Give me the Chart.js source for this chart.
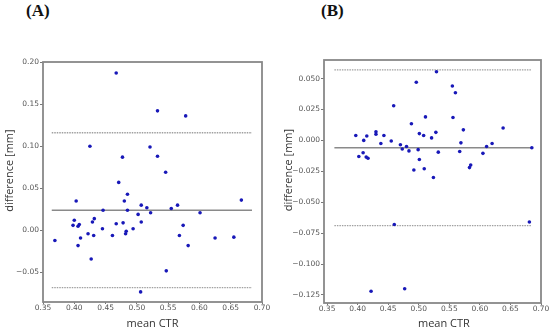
<!DOCTYPE html>
<html>
<head>
<meta charset="utf-8">
<script src="https://cdn.jsdelivr.net/npm/chart.js@4.4.1/dist/chart.umd.min.js"></script>
<style>
body { margin: 0; background: #fff; }
#wrap { position: relative; width: 550px; height: 333px; }
canvas { position: absolute; top: 0; }
.tag { position: absolute; top: 2px; font: bold 17px "Liberation Serif", serif; color: #111; line-height: 18px; }
</style>
</head>
<body>
<div id="wrap">
  <div class="tag" style="left:26px">(A)</div>
  <div class="tag" style="left:321px">(B)</div>
  <canvas id="chartA" width="272" height="333" style="left:0"></canvas>
  <canvas id="chartB" width="278" height="333" style="left:272px"></canvas>
</div>
<script>
// panel A: mean CTR vs difference
var aX = [0.369, 0.403, 0.400, 0.398, 0.406, 0.408, 0.406, 0.410, 0.422, 0.427, 0.429, 0.432, 0.431, 0.446, 0.445, 0.461, 0.467, 0.471, 0.478, 0.480, 0.483, 0.482, 0.485, 0.485, 0.494, 0.502, 0.507, 0.507, 0.506, 0.516, 0.522, 0.546, 0.547, 0.555, 0.565, 0.568, 0.574, 0.582, 0.601, 0.625, 0.655, 0.667, 0.467, 0.533, 0.578, 0.425, 0.521, 0.477, 0.533]
var aY = [-0.012, 0.035, 0.012, 0.006, 0.005, 0.007, -0.018, -0.009, -0.004, -0.034, 0.010, 0.014, -0.006, 0.024, 0.002, -0.006, 0.008, 0.057, 0.009, 0.035, -0.001, -0.004, 0.043, 0.024, 0.002, 0.019, 0.010, 0.030, -0.073, 0.027, 0.021, 0.069, -0.048, 0.026, 0.030, -0.006, 0.006, -0.018, 0.021, -0.009, -0.008, 0.036, 0.187, 0.142, 0.136, 0.100, 0.099, 0.087, 0.088]
var aMean = 0.024
var aUpper = 0.116
var aLower = -0.068
var aSpan = [0.364, 0.684]
var aXTicks = [0.35, 0.40, 0.45, 0.50, 0.55, 0.60, 0.65, 0.70]
var aYTicks = [-0.05, 0.00, 0.05, 0.10, 0.15, 0.20]

// panel B
var bX = [0.397, 0.402, 0.410, 0.409, 0.415, 0.414, 0.417, 0.430, 0.430, 0.438, 0.443, 0.455, 0.459, 0.470, 0.473, 0.480, 0.484, 0.488, 0.496, 0.499, 0.501, 0.501, 0.508, 0.511, 0.521, 0.528, 0.529, 0.532, 0.555, 0.560, 0.556, 0.573, 0.569, 0.567, 0.583, 0.585, 0.605, 0.611, 0.620, 0.638, 0.685, 0.492, 0.509, 0.524, 0.460, 0.681, 0.422, 0.477]
var bY = [0.004, -0.013, 0.000, -0.010, 0.0035, -0.0135, -0.0145, 0.007, 0.005, -0.0025, 0.004, -0.0005, 0.028, -0.0035, -0.007, -0.005, -0.0085, 0.0135, 0.047, -0.0075, 0.0055, -0.0155, 0.004, 0.019, 0.002, 0.0065, 0.0555, -0.0095, 0.044, 0.0385, 0.0185, 0.0085, -0.002, -0.009, -0.022, -0.020, -0.0105, -0.005, -0.0025, 0.010, -0.006, -0.024, -0.023, -0.030, -0.068, -0.066, -0.122, -0.120]
var bMean = -0.006
var bUpper = 0.057
var bLower = -0.069
var bSpan = [0.362, 0.685]
var bXTicks = [0.35, 0.40, 0.45, 0.50, 0.55, 0.60, 0.65, 0.70]
var bYTicks = [-0.125, -0.100, -0.075, -0.050, -0.025, 0.000, 0.025, 0.050]

function fmt(v, d) {
    return v.toFixed(d).replace('-', '\u2212')
}

function hline(y, span, color, dash) {
    return {
        type: 'line',
        data: [{x: span[0], y: y}, {x: span[1], y: y}],
        borderColor: color,
        borderWidth: dash ? 1.3 : 1.6,
        borderDash: dash || [],
        pointRadius: 0,
        showLine: true
    }
}

// box around the plot area, like the matplotlib frame
var framePlugin = {
    id: 'frame',
    afterDraw: function (chart) {
        var a = chart.chartArea
        var c = chart.ctx
        c.save()
        c.strokeStyle = '#888888'
        c.lineWidth = 1.8
        c.strokeRect(a.left, a.top, a.right - a.left, a.bottom - a.top)
        c.restore()
    }
}

var tickFont = {family: 'DejaVu Sans', size: 7.5}
var titleFont = {family: 'Open Sans', size: 11}
// leading spaces nudge the centred titles off-centre the way the figure has them
var pad8 = '        '

function makeChart(id, p) {
    var pts = p.xs.map(function (x, i) { return {x: x, y: p.ys[i]} })
    return new Chart(document.getElementById(id), {
        type: 'scatter',
        data: {
            datasets: [
                {
                    data: pts,
                    backgroundColor: '#1818b8',
                    borderWidth: 0,
                    pointRadius: 1.8
                },
                hline(p.mean, p.span, '#8a8a8a'),
                hline(p.upper, p.span, '#a0a0a0', [1.5, 1]),
                hline(p.lower, p.span, '#a0a0a0', [1.5, 1])
            ]
        },
        options: {
            responsive: false,
            animation: false,
            layout: {padding: p.pad},
            scales: {
                x: {
                    min: p.xMin, max: 0.70,
                    afterBuildTicks: function (s) { s.ticks = p.xTicks.map(function (v) { return {value: v} }) },
                    afterFit: function (s) { s.height = p.xH },
                    grid: {display: true, drawOnChartArea: false, tickLength: 2, color: '#777777'},
                    border: {display: false},
                    ticks: {font: tickFont, color: '#555555', padding: 0, maxRotation: 0,
                        callback: function (v) { return fmt(v, 2) }},
                    title: {display: true, text: p.xTitle, font: titleFont, color: '#333333', padding: {top: 0, bottom: 3}}
                },
                y: {
                    min: p.yMin, max: p.yMax,
                    afterBuildTicks: function (s) { s.ticks = p.yTicks.map(function (v) { return {value: v} }) },
                    afterFit: function (s) { s.width = p.yW },
                    grid: {display: true, drawOnChartArea: false, tickLength: 3, color: '#777777'},
                    border: {display: false},
                    ticks: {font: tickFont, color: '#555555', padding: 1,
                        callback: function (v) { return fmt(v, p.yDec) }},
                    title: {display: true, text: pad8 + 'difference [mm]', font: titleFont, color: '#333333', padding: {top: 0, bottom: 0}}
                }
            },
            plugins: {
                legend: {display: false},
                tooltip: {enabled: false}
            }
        },
        plugins: [framePlugin]
    })
}

makeChart('chartA', {
    xs: aX, ys: aY, mean: aMean, upper: aUpper, lower: aLower, span: aSpan,
    xTicks: aXTicks, yTicks: aYTicks, xMin: 0.35, yMin: -0.085, yMax: 0.20, yDec: 2,
    xTitle: 'mean CTR',
    pad: {left: 3, right: 10, top: 62, bottom: 0}, yW: 40, xH: 31
})

makeChart('chartB', {
    xs: bX, ys: bY, mean: bMean, upper: bUpper, lower: bLower, span: bSpan,
    xTicks: bXTicks, yTicks: bYTicks, xMin: 0.345, yMin: -0.1315, yMax: 0.065, yDec: 3,
    xTitle: pad8 + 'mean CTR',
    pad: {left: 10, right: 9, top: 60, bottom: 0}, yW: 42, xH: 30
})
</script>
</body>
</html>
